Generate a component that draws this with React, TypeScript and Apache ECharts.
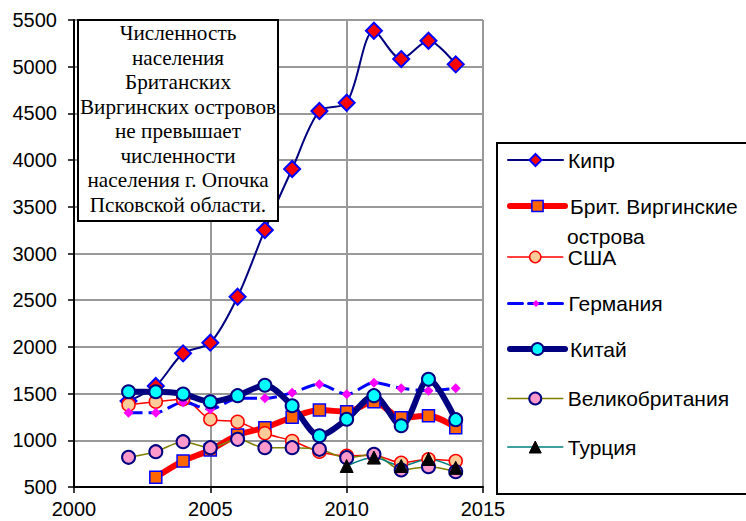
import React, { useEffect, useRef } from "react";
import * as echarts from "echarts";

const years = [2002, 2003, 2004, 2005, 2006, 2007, 2008, 2009, 2010, 2011, 2012, 2013, 2014];
const cyprus = [1420, 1581, 1931, 2045, 2537, 3252, 3905, 4526, 4614, 5385, 5082, 5278, 5025];
const bvi = [null, 604, 778, 896, 1057, 1135, 1246, 1324, 1306, 1413, 1242, 1263, 1135];
const usa = [1380, 1413, 1440, 1225, 1199, 1075, 992, 878, 835, 840, 760, 797, 778];
const germany = [1296, 1296, 1407, 1332, 1449, 1449, 1510, 1600, 1492, 1617, 1557, 1531, 1557];
const china = [1520, 1520, 1496, 1413, 1478, 1589, 1370, 1049, 1225, 1478, 1156, 1653, 1221];
const uk = [818, 878, 985, 921, 1010, 921, 921, 903, 814, 850, 682, 718, 664];
const turkey = [null, null, null, null, null, null, null, null, 725, 815, 725, 800, 705];

const xTicks = { min: 2000, max: 2015, interval: 5 };
const yTicks = { min: 500, max: 5500, interval: 500 };

const noteLines = [
  "Численность",
  "населения",
  "Британских",
  "Виргинских островов",
  "не превышает",
  "численности",
  "населения г. Опочка",
  "Псковской области.",
];

const names = [
  "Кипр",
  "Брит. Виргинские острова",
  "США",
  "Германия",
  "Китай",
  "Великобритания",
  "Турция",
];

const pairs = (vals: (number | null)[]) =>
  years.map((y, i) => (vals[i] == null ? [y, null] : [y, vals[i]]));

export default function App() {
  const ref = useRef<HTMLDivElement>(null);
  useEffect(() => {
    if (!ref.current) return;
    const chart = echarts.init(ref.current, undefined, { renderer: "svg" });
    const sans = "Liberation Sans, Arial, sans-serif";
    const serif = "Liberation Serif, Times New Roman, serif";
    const common = {
      type: "line",
      smooth: 0.3,
      connectNulls: false,
      emphasis: { disabled: true },
    };
    const seriesDefs = [
      {
        name: names[0], data: pairs(cyprus), symbol: "diamond", symbolSize: 16,
        lineStyle: { color: "#000080", width: 2 },
        itemStyle: { color: "#FF0000", borderColor: "#0000FF", borderWidth: 2 },
      },
      {
        name: names[1], data: pairs(bvi), symbol: "rect", symbolSize: 12,
        lineStyle: { color: "#FF0000", width: 6, cap: "round", join: "round" },
        itemStyle: { color: "#FF6600", borderColor: "#0000FF", borderWidth: 1.5 },
      },
      {
        name: names[2], data: pairs(usa), symbol: "circle", symbolSize: 13,
        lineStyle: { color: "#FF0000", width: 1.5 },
        itemStyle: { color: "#FFCC99", borderColor: "#FF0000", borderWidth: 1.5 },
      },
      {
        name: names[3], data: pairs(germany), symbol: "diamond", symbolSize: 10,
        lineStyle: { color: "#0000FF", width: 3, type: [14, 6] },
        itemStyle: { color: "#FF00FF", borderWidth: 0 },
      },
      {
        name: names[4], data: pairs(china), symbol: "circle", symbolSize: 13,
        lineStyle: { color: "#000080", width: 6, cap: "round", join: "round" },
        itemStyle: { color: "#00FFFF", borderColor: "#000080", borderWidth: 2 },
      },
      {
        name: names[5], data: pairs(uk), symbol: "circle", symbolSize: 13,
        lineStyle: { color: "#808000", width: 1.5 },
        itemStyle: { color: "#FF99CC", borderColor: "#000080", borderWidth: 2 },
      },
      {
        name: names[6], data: pairs(turkey), symbol: "triangle", symbolSize: 13,
        lineStyle: { color: "#008080", width: 1.5 },
        itemStyle: { color: "#000000", borderColor: "#000000", borderWidth: 1 },
      },
    ];
    const legendCenters = [160, 206, 257, 303.5, 349, 398.5, 447];
    const legendIconH = [15, 14, 14, 9, 15, 15, 15];
    const legendLineW = [2, 6, 1.5, 3, 6, 1.5, 1.5];
    const legendFont = 21;
    const legends = names.map((n, i) => ({
      data: [n],
      orient: "vertical",
      left: 507,
      top: legendCenters[i] - legendFont / 2,
      padding: 0,
      itemWidth: 55,
      itemHeight: legendIconH[i],
      selectedMode: false,
      z: 5,
      formatter: (name: string) => (name === names[1] ? "Брит. Виргинские" : name),
      textStyle: { fontFamily: sans, fontSize: legendFont, color: "#000" },
      lineStyle: { width: legendLineW[i], cap: "round" },
      itemStyle: { borderWidth: (seriesDefs[i].itemStyle as any).borderWidth || 0 },
    }));

    const axisLabel = {
      fontFamily: sans,
      fontSize: 20,
      color: "#000",
      formatter: (v: number) => String(v),
    };
    chart.setOption({
      animation: false,
      grid: { left: 74, top: 20, right: 263, bottom: 34, containLabel: false },
      xAxis: {
        type: "value",
        ...xTicks,
        axisLine: { show: true, onZero: false, lineStyle: { color: "#000", width: 2 } },
        axisTick: { show: true, length: 6, lineStyle: { color: "#000", width: 1.5 } },
        axisLabel: { ...axisLabel, margin: 12 },
        splitLine: { show: true, lineStyle: { color: "#999999", width: 2 } },
      },
      yAxis: {
        type: "value",
        ...yTicks,
        axisLine: { show: true, lineStyle: { color: "#000", width: 2 } },
        axisTick: { show: true, length: 6, lineStyle: { color: "#000", width: 1.5 } },
        axisLabel: { ...axisLabel, margin: 17 },
        splitLine: { show: true, lineStyle: { color: "#999999", width: 2 } },
      },
      legend: legends,
      series: seriesDefs.map((s) => ({ ...common, ...s })),
      graphic: [
        {
          type: "rect",
          z: 1,
          shape: { x: 497, y: 143, width: 300, height: 351 },
          style: { fill: "#fff", stroke: "#000", lineWidth: 2 },
        },
        {
          type: "text",
          z: 6,
          x: 567,
          y: 236,
          style: {
            text: "острова",
            fontFamily: sans,
            fontSize: legendFont,
            fill: "#000",
            verticalAlign: "middle",
          },
        },
        {
          type: "group",
          z: 10,
          children: [
            {
              type: "rect",
              z: 10,
              shape: { x: 78, y: 20, width: 200, height: 201 },
              style: { fill: "#fff", stroke: "#000", lineWidth: 2 },
            },
            {
              type: "text",
              z: 11,
              x: 178,
              y: 21,
              scaleX: 1.06,
              style: {
                text: noteLines.join("\n"),
                fontFamily: serif,
                fontSize: 20,
                lineHeight: 24.5,
                fill: "#000",
                align: "center",
                verticalAlign: "top",
              },
            },
          ],
        },
      ],
    });
    return () => chart.dispose();
  }, []);
  return (
    <div
      ref={ref}
      style={{ position: "fixed", left: 0, top: 0, width: 746, height: 521, background: "#fff" }}
    />
  );
}
